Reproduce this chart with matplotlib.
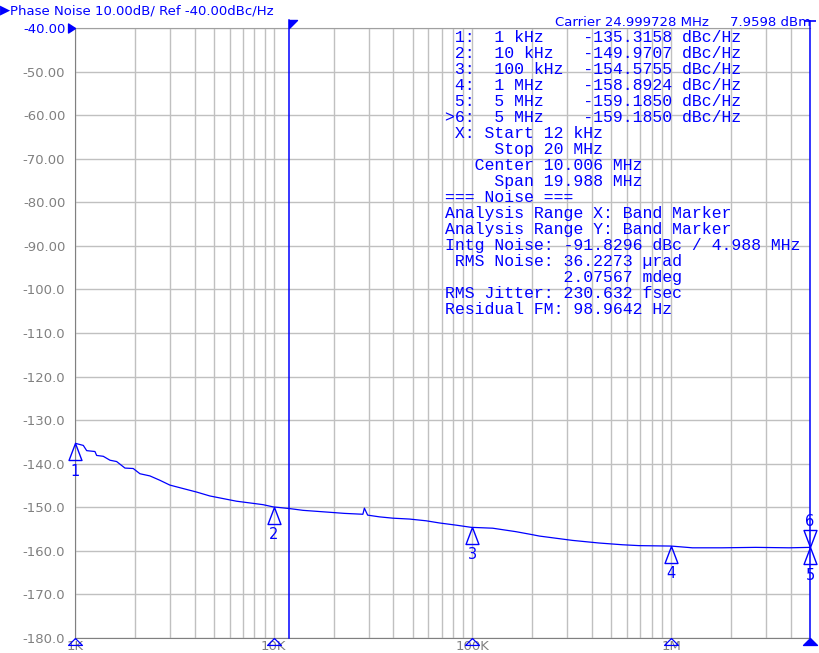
import numpy as np
import matplotlib.pyplot as plt
from matplotlib.ticker import FixedLocator, LogLocator, NullFormatter

# trace
freq_hz = [1000, 1101, 1145, 1260, 1285, 1388, 1500, 1620, 1784, 1963, 2122, 2382,
           2674, 3000, 3500, 4090, 4770, 5560, 6490, 7580, 8840, 9920, 12030, 14040,
           19860, 22700, 28100, 28600, 29700, 34100, 39800, 48200, 58500, 68300,
           82800, 98500, 126500, 165800, 201000, 217000, 263000, 319000, 434000,
           569000, 690000, 1000000, 1280000, 1810000, 2660000, 3920000, 5000000]
noise_dbc = [-135.3, -135.8, -137.0, -137.2, -138.1, -138.3, -139.2, -139.5, -141.0,
             -141.1, -142.3, -142.8, -143.8, -144.9, -145.7, -146.5, -147.4, -148.0,
             -148.6, -149.0, -149.4, -149.9, -150.3, -150.7, -151.2, -151.4, -151.6,
             -150.2, -151.8, -152.2, -152.5, -152.7, -153.1, -153.6, -154.1, -154.6,
             -154.8, -155.6, -156.3, -156.6, -157.1, -157.6, -158.2, -158.6, -158.8,
             -158.9, -159.3, -159.3, -159.2, -159.3, -159.2]

# markers
mk_freq = [1e3, 1e4, 1e5, 1e6, 5e6]
mk_val = [-135.3158, -149.9707, -154.5755, -158.8924, -159.1850]
mk_name = ["1", "2", "3", "4", "5"]

yticks = list(range(-40, -181, -10))
xtick_pos = [1e3, 1e4, 1e5, 1e6]
xtick_lab = ["1K", "10K", "100K", "1M"]

band_start, band_stop = 12e3, 5e6

header = "Phase Noise 10.00dB/ Ref -40.00dBc/Hz"
carrier = "Carrier 24.999728 MHz"
carrier_pwr = "7.9598 dBm"
info_lines = [
    " 1:  1 kHz    -135.3158 dBc/Hz",
    " 2:  10 kHz   -149.9707 dBc/Hz",
    " 3:  100 kHz  -154.5755 dBc/Hz",
    " 4:  1 MHz    -158.8924 dBc/Hz",
    " 5:  5 MHz    -159.1850 dBc/Hz",
    ">6:  5 MHz    -159.1850 dBc/Hz",
    " X: Start 12 kHz",
    "     Stop 20 MHz",
    "   Center 10.006 MHz",
    "     Span 19.988 MHz",
    "=== Noise ===",
    "Analysis Range X: Band Marker",
    "Analysis Range Y: Band Marker",
    "Intg Noise: -91.8296 dBc / 4.988 MHz",
    " RMS Noise: 36.2273 \u00b5rad",
    "            2.07567 mdeg",
    "RMS Jitter: 230.632 fsec",
    "Residual FM: 98.9642 Hz",
]

BLUE = "#0000ff"
GRAY = "#808080"
W, H = 819, 653

fig = plt.figure(figsize=(W / 100, H / 100), dpi=100)
ax = fig.add_axes([75 / W, 15 / H, 735 / W, 610 / H])

ax.set_xscale("log")
ax.set_xlim(1e3, 5e6)
ax.set_ylim(-180, -40)

ax.xaxis.set_major_locator(FixedLocator(xtick_pos))
ax.set_xticklabels(xtick_lab)
ax.xaxis.set_minor_locator(LogLocator(base=10, subs=np.arange(2, 10)))
ax.xaxis.set_minor_formatter(NullFormatter())
ax.set_yticks(yticks)
ax.set_yticklabels([f"{v:.2f}" if v > -100 else f"{v:.1f}" for v in yticks])
ax.tick_params(axis="both", which="both", length=0, colors=GRAY, labelsize=9.5)
ax.tick_params(axis="y", pad=7)
ax.tick_params(axis="x", pad=1.5)
ax.get_yticklabels()[0].set_color(BLUE)

ax.grid(True, which="both", color="#c0c0c0", lw=1)
ax.set_axisbelow(True)
for s in ["left", "bottom"]:
    ax.spines[s].set_color(GRAY)
ax.spines["top"].set_color("#a0a0a0")
ax.spines["right"].set_visible(False)

# trace
ax.plot(freq_hz, noise_dbc, color=BLUE, lw=0.9, zorder=3)

# band marker lines
ax.axvline(band_start, ymin=0, ymax=1 + 8 / 610, color=BLUE, lw=1.1, clip_on=False, zorder=4)
ax.axvline(band_stop, ymin=0, ymax=1 + 7 / 610, color=BLUE, lw=1.1, clip_on=False, zorder=4)
flag = [(0, 0), (1, 0), (0, -1), (0, 0)]
ax.plot([band_start], [-40 + 8 / 610 * 140], marker=flag, ms=11.5, color=BLUE,
        clip_on=False, zorder=5)
ax.plot([band_stop], [-40 + 7 / 610 * 140], marker="_", ms=9, mew=1.2, color=BLUE,
        clip_on=False, zorder=5)

# reference level arrow and stop arrow
ref_arrow = [(0, 0), (-1, 0.65), (-1, -0.65), (0, 0)]
ax.plot([1e3], [-40], marker=ref_arrow, ms=10, color=BLUE, clip_on=False, zorder=5)
tri_low = [(0, 0), (1, -1), (-1, -1), (0, 0)]
ax.plot([band_stop], [-180], marker=tri_low, ms=10, color=BLUE, clip_on=False, zorder=5)
ax.plot(mk_freq[:4], [-180] * 4, marker=tri_low, ms=10, ls="none", mfc="none",
        mec=BLUE, mew=0.9, clip_on=False, zorder=5)

# trace markers
tri_up = [(0, 0), (0.38, -1), (-0.38, -1), (0, 0)]
tri_dn = [(0, 0), (0.38, 1), (-0.38, 1), (0, 0)]
ax.plot(mk_freq, mk_val, marker=tri_up, ms=24.5, ls="none", mfc="none",
        mec=BLUE, mew=1.0, clip_on=False, zorder=6)
ax.plot([mk_freq[-1]], [mk_val[-1]], marker=tri_dn, ms=24.5, ls="none", mfc="none",
        mec=BLUE, mew=1.0, clip_on=False, zorder=6)
for f, v, n in zip(mk_freq, mk_val, mk_name):
    ax.annotate(n, (f, v), xytext=(0, -20), textcoords="offset points",
                ha="center", va="center", color=BLUE, fontsize=10.5, annotation_clip=False)
ax.annotate("6", (mk_freq[-1], mk_val[-1]), xytext=(0, 18.5), textcoords="offset points",
            ha="center", va="center", color=BLUE, fontsize=10.5, annotation_clip=False)

# header texts
fig.text(0 / W, 1 - 9.5 / H, "\u25b6", color=BLUE, fontsize=9.5, va="center", ha="left")
fig.text(10 / W, 1 - 14 / H, header, color=BLUE, fontsize=9.5, va="baseline", ha="left")
fig.text(555 / W, 1 - 26 / H, carrier, color=BLUE, fontsize=9.5, va="baseline", ha="left")
fig.text(730 / W, 1 - 26 / H, carrier_pwr, color=BLUE, fontsize=9.5, va="baseline", ha="left")

for i, line in enumerate(info_lines):
    fig.text(445 / W, 1 - (42 + 16 * i) / H, line, color=BLUE, fontsize=11.9,
             family="Liberation Mono", va="baseline", ha="left")

fig.savefig("out.png", dpi=100)
